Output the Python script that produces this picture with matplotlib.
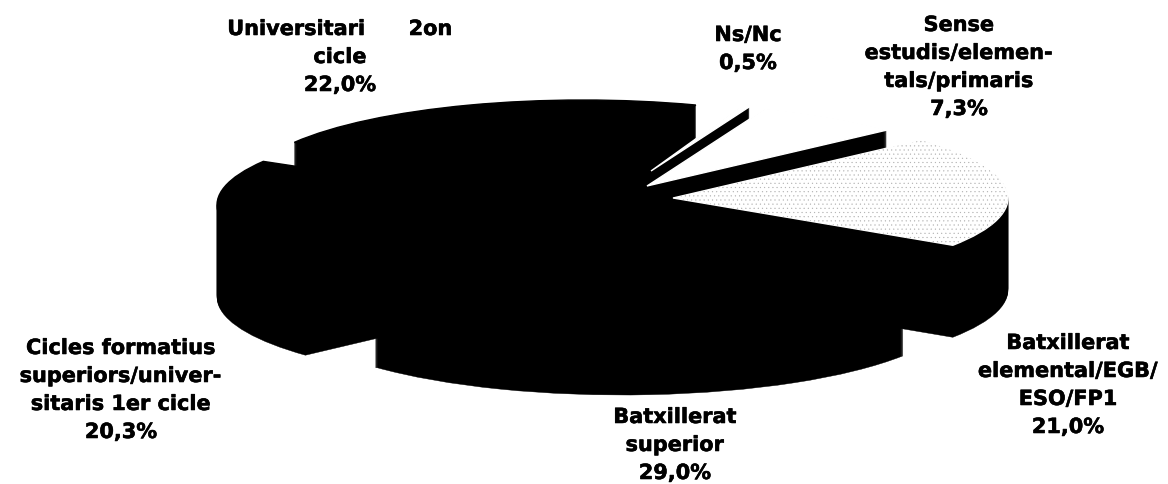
import matplotlib
matplotlib.use("Agg")
import matplotlib.pyplot as plt
import matplotlib.patheffects as pe
from matplotlib.patches import Wedge

plt.rcParams["font.family"] = ["DejaVu Sans"]
plt.rcParams["hatch.linewidth"] = 0.3

categories = [
    "Batxillerat\nsuperior",
    "Cicles formatius\nsuperiors/univer-\nsitaris 1er cicle",
    "Universitari      2on\ncicle",
    "Ns/Nc",
    "Sense\nestudis/elemen-\ntals/primaris",
    "Batxillerat\nelemental/EGB/\nESO/FP1",
]
values = [29.0, 20.3, 22.0, 0.5, 7.3, 21.0]
value_labels = ["29,0%", "20,3%", "22,0%", "0,5%", "7,3%", "21,0%"]

W, H = 1168, 484
RX, RY = 335, 86   # ellipse half axes in pixels
DEPTH = 92
K = RX / RY
START = -33.0      # clockwise from here

# per slice look: apex pixel, radius factor, top colour, label centre
apex = [(622, 217), (552, 205), (583, 186), (651, 171), (647, 186), (673, 198)]
radius = [1.0, 1.0, 1.0, 0.80, 0.965, 1.0]
tops = ["black", "black", "black", "white", "white", "stipple"]
label_pos = [(675, 445), (121, 390), (340, 57), (748, 49), (959, 67), (1068, 385)]
draw_order = [2, 3, 4, 1, 5, 0]  # back to front


def to_y(py):
    return -py * K


fig = plt.figure(figsize=(W / 100, H / 100), dpi=100)
ax = fig.add_axes([0, 0, 1, 1])
ax.set_xlim(0, W)
ax.set_ylim(to_y(H), 0)
ax.axis("off")

angles = []
a = START
for v in values:
    a2 = a - v * 3.6
    angles.append((a2, a))
    a = a2

for i in draw_order:
    px, py = apex[i]
    t1, t2 = angles[i]
    r = RX * radius[i]
    for d in range(DEPTH, 0, -1):
        ax.add_patch(Wedge((px, to_y(py + d)), r, t1, t2, fc="black", ec="black", lw=0.3))
    top_color = "black" if tops[i] == "black" else "white"
    ax.add_patch(Wedge((px, to_y(py)), r, t1, t2, fc=top_color, ec=top_color, lw=1.0))
    if tops[i] == "stipple":
        ax.add_patch(Wedge((px, to_y(py)), r, t1, t2, fc="none", ec="#b0b0b0", lw=0, hatch="...."))

for name, val, (x, y) in zip(categories, value_labels, label_pos):
    ax.text(x, to_y(y), f"{name}\n{val}", ha="center", va="center",
            fontsize=15, fontweight="bold", color="black", linespacing=1.5,
            path_effects=[pe.withStroke(linewidth=0.4, foreground="black")])

fig.savefig("out.png", dpi=100)
